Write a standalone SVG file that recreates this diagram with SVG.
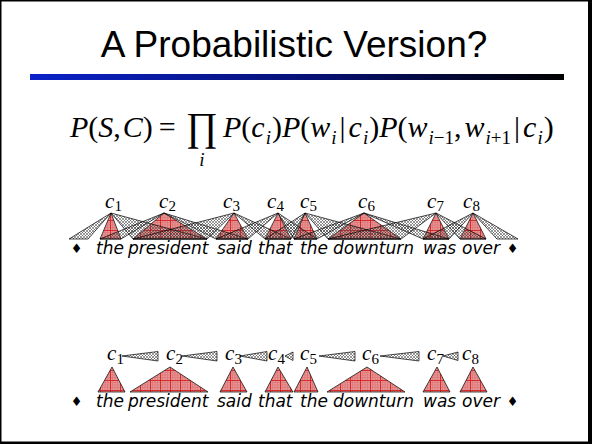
<svg xmlns="http://www.w3.org/2000/svg" width="592" height="444" viewBox="0 0 592 444">
<defs>
<linearGradient id="bar" x1="0" y1="0" x2="1" y2="0">
<stop offset="0" stop-color="#0a22c8"/>
<stop offset="0.55" stop-color="#061070"/>
<stop offset="1" stop-color="#000000"/>
</linearGradient>
<pattern id="hatch" width="3" height="3" patternUnits="userSpaceOnUse">
<path d="M0,0 L3,3 M3,0 L0,3" stroke="#444" stroke-width="0.55"/>
</pattern>
<pattern id="redp" width="10" height="10" patternUnits="userSpaceOnUse">
<rect width="10" height="10" fill="#e99494"/>
<path d="M0 2.5H10M0 5H10M0 7.5H10M2.5 0V10M5 0V10M7.5 0V10" stroke="#d87272" stroke-width="0.6"/>
<path d="M0 0.5H10M0.5 0V10" stroke="#d42020" stroke-width="0.9"/>
</pattern>
<style>
.title{font-family:"Liberation Sans",Arial,sans-serif;font-size:37px;fill:#000}
.eq{font-family:"Liberation Serif","Times New Roman",serif;font-size:30px;fill:#000}
.it{font-style:italic}
.sb{font-size:19px}
.ci{font-family:"Liberation Serif","Times New Roman",serif;font-size:21px;font-style:italic;fill:#000}
.cs{font-family:"Liberation Serif","Times New Roman",serif;font-size:15px;fill:#000}
.w{font-family:"DejaVu Sans",Verdana,sans-serif;font-size:17px;font-style:italic;fill:#000}
.dm{font-family:"DejaVu Sans",sans-serif;font-size:13px;fill:#000}
.red{fill:url(#redp);stroke:#000;stroke-width:0.7}
.gray{fill:url(#hatch);stroke:#000;stroke-width:0.7}
</style>
</defs>
<rect x="0" y="0" width="592" height="444" fill="#000"/>
<rect x="1.5" y="1.5" width="586.5" height="440" fill="#fff"/>

<g id="title">
<text class="title" x="294" y="57" text-anchor="middle">A Probabilistic Version?</text>
<rect x="30" y="74" width="534" height="6" fill="url(#bar)"/>
</g>

<g id="equation" class="eq">
<text x="70" y="137"><tspan class="it">P</tspan>(<tspan class="it">S</tspan>,<tspan class="it" dx="2">C</tspan>)<tspan dx="6">=</tspan></text>
<text x="186" y="140" style="font-size:40px" textLength="32" lengthAdjust="spacingAndGlyphs">∏</text>
<text x="202" y="166" class="it sb" text-anchor="middle">i</text>
<text x="223" y="137"><tspan class="it">P</tspan>(<tspan class="it">c</tspan><tspan class="it sb" dx="1" dy="7">i</tspan><tspan dx="1" dy="-7">)</tspan><tspan class="it">P</tspan>(<tspan class="it">w</tspan><tspan class="it sb" dx="1" dy="7">i</tspan><tspan dx="3" dy="-7">|</tspan><tspan class="it" dx="3">c</tspan><tspan class="it sb" dx="1" dy="7">i</tspan><tspan dx="1" dy="-7">)</tspan><tspan class="it">P</tspan>(<tspan class="it">w</tspan><tspan class="sb" dx="1" dy="7"><tspan class="it">i</tspan>−1</tspan><tspan dy="-7">,</tspan><tspan class="it" dx="3">w</tspan><tspan class="sb" dx="1" dy="7"><tspan class="it">i</tspan>+1</tspan><tspan dx="3" dy="-7">|</tspan><tspan class="it" dx="3">c</tspan><tspan class="it sb" dx="1" dy="7">i</tspan><tspan dx="1" dy="-7">)</tspan></text>
</g>

<!-- Diagram 1 -->
<g id="d1-red">
<polygon class="red" points="111,213 100,239 121,239"/>
<polygon class="red" points="164,213 133,239 207,239"/>
<polygon class="red" points="234,213 216,239 248,239"/>
<polygon class="red" points="278,213 265,239 291,239"/>
<polygon class="red" points="305,213 294,239 317,239"/>
<polygon class="red" points="364,213 328,239 401,239"/>
<polygon class="red" points="436,213 423,239 449,239"/>
<polygon class="red" points="473,213 460,239 486,239"/>
</g>
<g id="d1-connectors">
<polygon class="gray" points="111,213 69,239 88,239"/>
<polygon class="gray" points="111,213 133,239 207,239"/>
<polygon class="gray" points="164,213 100,239 121,239"/>
<polygon class="gray" points="164,213 216,239 248,239"/>
<polygon class="gray" points="234,213 133,239 207,239"/>
<polygon class="gray" points="234,213 265,239 291,239"/>
<polygon class="gray" points="278,213 216,239 248,239"/>
<polygon class="gray" points="278,213 294,239 317,239"/>
<polygon class="gray" points="305,213 265,239 291,239"/>
<polygon class="gray" points="305,213 328,239 401,239"/>
<polygon class="gray" points="364,213 294,239 317,239"/>
<polygon class="gray" points="364,213 423,239 449,239"/>
<polygon class="gray" points="436,213 328,239 401,239"/>
<polygon class="gray" points="436,213 460,239 486,239"/>
<polygon class="gray" points="473,213 423,239 449,239"/>
<polygon class="gray" points="473,213 497,239 518,239"/>
</g>
<g id="d1-classes">
<g id="d1-c1"><text class="ci" x="105" y="208">c</text><text class="cs" x="114.5" y="211">1</text></g>
<g id="d1-c2"><text class="ci" x="159" y="208">c</text><text class="cs" x="168.5" y="211">2</text></g>
<g id="d1-c3"><text class="ci" x="223" y="208">c</text><text class="cs" x="232.5" y="211">3</text></g>
<g id="d1-c4"><text class="ci" x="267" y="208">c</text><text class="cs" x="276.5" y="211">4</text></g>
<g id="d1-c5"><text class="ci" x="300" y="208">c</text><text class="cs" x="309.5" y="211">5</text></g>
<g id="d1-c6"><text class="ci" x="358" y="208">c</text><text class="cs" x="367.5" y="211">6</text></g>
<g id="d1-c7"><text class="ci" x="427" y="208">c</text><text class="cs" x="436.5" y="211">7</text></g>
<g id="d1-c8"><text class="ci" x="463" y="208">c</text><text class="cs" x="472.5" y="211">8</text></g>
</g>
<g id="d1-sentence">
<text class="dm" x="76.5" y="253" text-anchor="middle">♦</text>
<text class="w" y="254"><tspan x="96">the</tspan><tspan x="128">president</tspan><tspan x="217">said</tspan><tspan x="258">that</tspan><tspan x="300">the</tspan><tspan x="333">downturn</tspan><tspan x="423">was</tspan><tspan x="462">over</tspan></text>
<text class="dm" x="512.5" y="253" text-anchor="middle">♦</text>
</g>

<!-- Diagram 2 -->
<g id="d2-red">
<polygon class="red" points="112,367 98,392 125,392"/>
<polygon class="red" points="170,367 130,392 208,392"/>
<polygon class="red" points="233,367 220,392 247,392"/>
<polygon class="red" points="278,367 265,392 293,392"/>
<polygon class="red" points="307,367 294,392 318,392"/>
<polygon class="red" points="367,367 327,392 405,392"/>
<polygon class="red" points="437,367 423,392 450,392"/>
<polygon class="red" points="473,367 460,392 487,392"/>
</g>
<g id="d2-connectors">
<polygon class="gray" points="122,356 158,351.5 158,361"/>
<polygon class="gray" points="182,356 217,351.5 217,361"/>
<polygon class="gray" points="240,356 267,351.5 267,361"/>
<polygon class="gray" points="285,356 293,352 293,360.5"/>
<polygon class="gray" points="319,356 355,351.5 355,361"/>
<polygon class="gray" points="380,356 419,351.5 419,361"/>
<polygon class="gray" points="443,356 458,352 458,360.5"/>
</g>
<g id="d2-classes">
<g id="d2-c1"><text class="ci" x="107" y="360">c</text><text class="cs" x="116.5" y="364">1</text></g>
<g id="d2-c2"><text class="ci" x="166" y="360">c</text><text class="cs" x="175.5" y="364">2</text></g>
<g id="d2-c3"><text class="ci" x="225" y="360">c</text><text class="cs" x="234.5" y="364">3</text></g>
<g id="d2-c4"><text class="ci" x="268" y="360">c</text><text class="cs" x="277.5" y="364">4</text></g>
<g id="d2-c5"><text class="ci" x="300" y="360">c</text><text class="cs" x="309.5" y="364">5</text></g>
<g id="d2-c6"><text class="ci" x="362" y="360">c</text><text class="cs" x="371.5" y="364">6</text></g>
<g id="d2-c7"><text class="ci" x="427" y="360">c</text><text class="cs" x="436.5" y="364">7</text></g>
<g id="d2-c8"><text class="ci" x="462" y="360">c</text><text class="cs" x="471.5" y="364">8</text></g>
</g>
<g id="d2-sentence">
<text class="dm" x="76.5" y="406" text-anchor="middle">♦</text>
<text class="w" y="407"><tspan x="96">the</tspan><tspan x="128">president</tspan><tspan x="217">said</tspan><tspan x="258">that</tspan><tspan x="300">the</tspan><tspan x="333">downturn</tspan><tspan x="423">was</tspan><tspan x="462">over</tspan></text>
<text class="dm" x="512.5" y="406" text-anchor="middle">♦</text>
</g>
</svg>
